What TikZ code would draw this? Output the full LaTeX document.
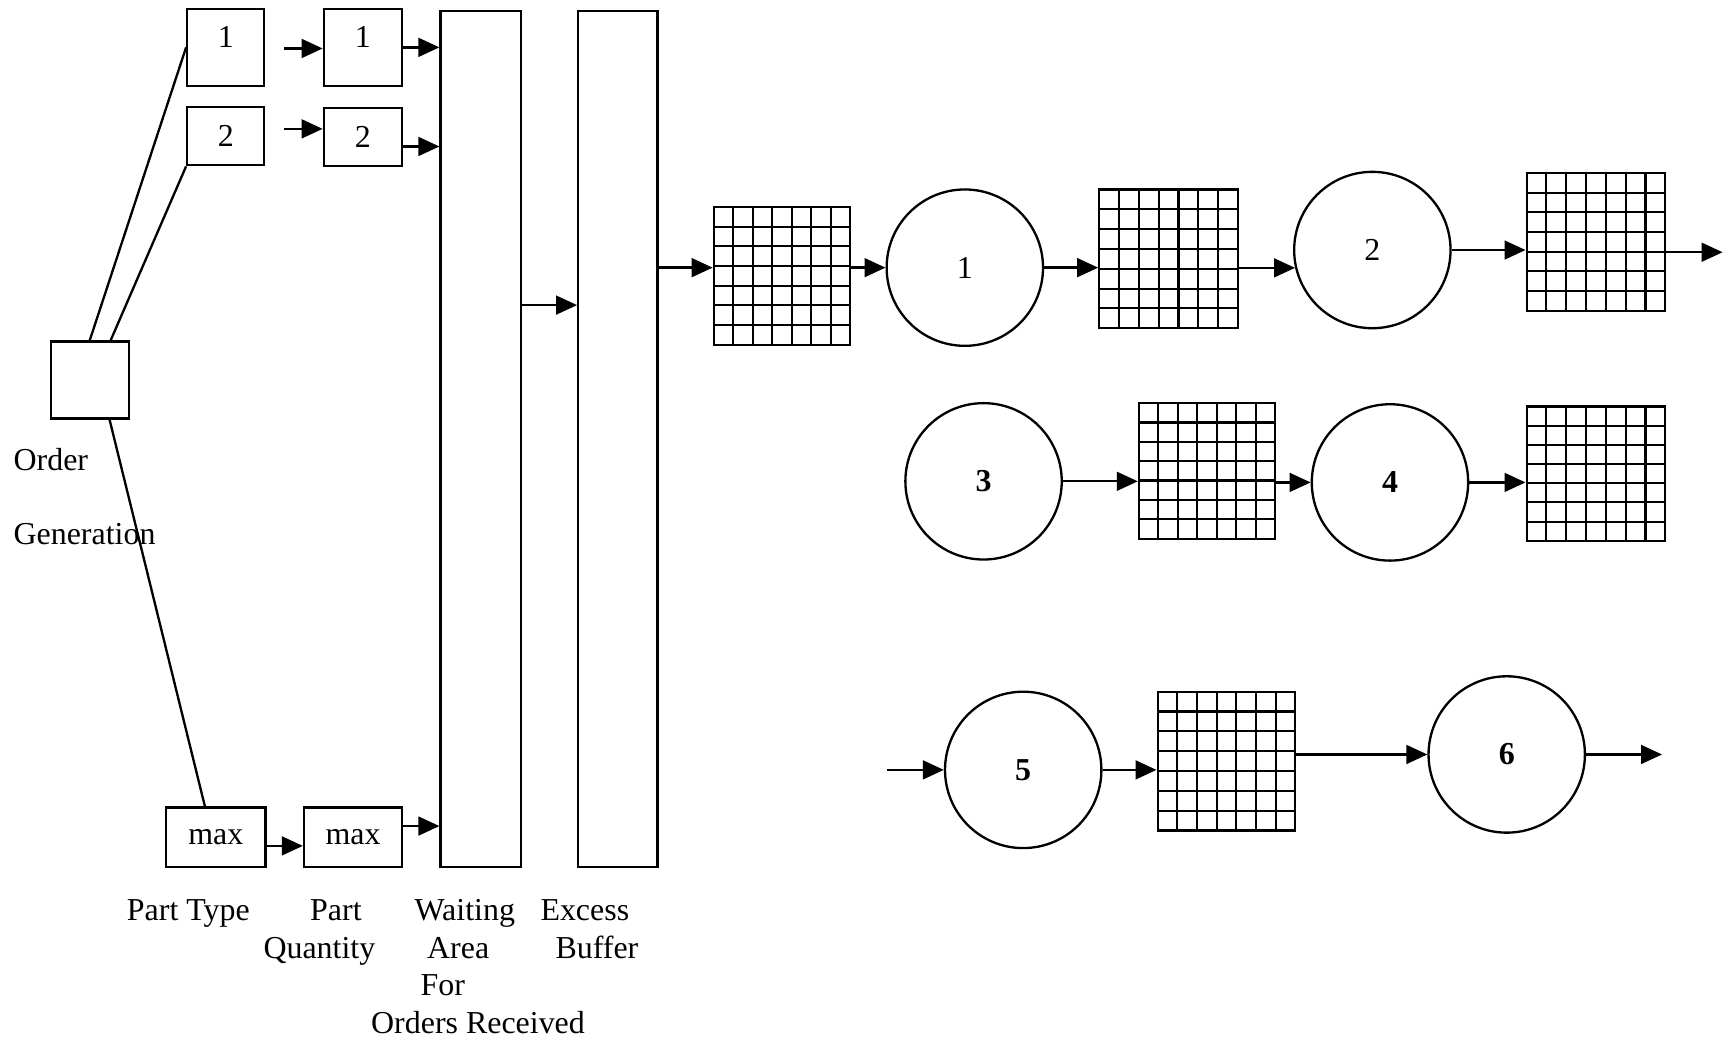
\documentclass[tikz,border=0pt]{standalone}
\usepackage{fontspec}
\setmainfont{Liberation Serif}
\usetikzlibrary{arrows.meta,calc}

\tikzset{
  box/.style={draw, line width=1.2pt, inner sep=0pt},
  toplabel/.style={text height=0.4cm, text depth=0.4cm},
  queue/.style={draw, line width=1.1pt, inner sep=0pt, path picture={
    \foreach \k in {1,...,6} {
      \draw[line width=1.1pt] ($(path picture bounding box.north west)!\k/7!(path picture bounding box.north east)$) -- ($(path picture bounding box.south west)!\k/7!(path picture bounding box.south east)$);
      \draw[line width=1.1pt] ($(path picture bounding box.north west)!\k/7!(path picture bounding box.south west)$) -- ($(path picture bounding box.north east)!\k/7!(path picture bounding box.south east)$);
    }}},
  machine/.style={draw, circle, line width=1.2pt, minimum size=2.84cm, inner sep=0pt},
  arr/.style={-{Triangle[length=0.38cm,width=0.34cm]}, line width=1.2pt},
  caption/.style={anchor=base, inner sep=0pt},
}

\begin{document}
\begin{tikzpicture}[x=0.02cm, y=-0.02cm, font=\fontsize{16.5}{20}\selectfont]
\useasboundingbox (0,0) rectangle (1568,944);
% Order generation
\node[box, minimum width=1.42cm, minimum height=1.40cm] (og) at (81.5,345) {};
\node[anchor=west, inner sep=0pt] (oglbl1) at (12,417) {Order};
\node[anchor=west, inner sep=0pt] (oglbl2) at (12,485) {Generation};
% Part type and part quantity boxes
\node[box, toplabel, minimum width=1.40cm, minimum height=1.40cm] (pt1) at (205,43) {1};
\node[box, minimum width=1.40cm, minimum height=1.06cm] (pt2) at (205,123.5) {2};
\node[box, minimum width=1.80cm, minimum height=1.08cm] (ptmax) at (196,760) {max};
\node[box, toplabel, minimum width=1.42cm, minimum height=1.40cm] (pq1) at (329.5,43) {1};
\node[box, minimum width=1.42cm, minimum height=1.06cm] (pq2) at (329.5,124.5) {2};
\node[box, minimum width=1.78cm, minimum height=1.08cm] (pqmax) at (320.5,760) {max};
% Waiting area and excess buffer
\node[box, minimum width=1.46cm, minimum height=15.54cm] (wait) at (436.5,398.5) {};
\node[box, minimum width=1.44cm, minimum height=15.54cm] (excess) at (561,398.5) {};
% Links from order generation
\draw[line width=1.2pt] (og.north) -- (pt1.west);
\draw[line width=1.2pt] ([xshift=0.38cm]og.north) -- (pt2.south west);
\draw[line width=1.2pt] ([xshift=0.36cm]og.south) -- ([xshift=-0.2cm]ptmax.north);
% Arrows into the waiting area
\coordinate (s1) at (258,44);
\coordinate (s2) at (258,117);
\draw[arr] (s1) -- (s1 -| pq1.west);
\draw[arr] (s2) -- (s2 -| pq2.west);
\draw[arr] ([yshift=-0.16cm]ptmax.east) -- ([yshift=-0.16cm]ptmax.east -| pqmax.west);
\draw[arr] (pq1.east) -- (pq1.east -| wait.west);
\draw[arr] ([yshift=-0.17cm]pq2.east) -- ([yshift=-0.17cm]pq2.east -| wait.west);
\draw[arr] ([yshift=0.2cm]pqmax.east) -- ([yshift=0.2cm]pqmax.east -| wait.west);
\draw[arr] (wait.east |- 0,277) -- (excess.west |- 0,277);
% Captions
\node[caption] (cpt) at (171,836) {Part Type};
\node[caption] (cpq1) at (305,836) {Part};
\node[caption] (cpq2) at (290,870) {Quantity};
\node[caption] (cwa1) at (422,836) {Waiting};
\node[caption] (cwa2) at (416,870) {Area};
\node[caption] (cwa3) at (402,904) {For};
\node[caption] (cwa4) at (434,938) {Orders Received};
\node[caption] (ceb1) at (531,836) {Excess};
\node[caption] (ceb2) at (542,870) {Buffer};
% Queues and machines
\node[queue, minimum width=2.48cm, minimum height=2.50cm] (g1) at (710,250.5) {};
\node[machine] (m1) at (876,243) {1};
\node[queue, minimum width=2.52cm, minimum height=2.52cm] (g2) at (1061,235) {};
\node[machine] (m2) at (1246,227) {2};
\node[queue, minimum width=2.52cm, minimum height=2.50cm] (g3) at (1449,219.5) {};
\node[machine, font=\fontsize{16.5}{20}\selectfont\bfseries] (m3) at (893,437) {3};
\node[queue, minimum width=2.48cm, minimum height=2.46cm] (g4) at (1096,427.5) {};
\node[machine, font=\fontsize{16.5}{20}\selectfont\bfseries] (m4) at (1262,438) {4};
\node[queue, minimum width=2.52cm, minimum height=2.44cm] (g5) at (1449,430) {};
\node[machine, font=\fontsize{16.5}{20}\selectfont\bfseries] (m5) at (929,699) {5};
\node[queue, minimum width=2.50cm, minimum height=2.52cm] (g6) at (1113.5,691) {};
\node[machine, font=\fontsize{16.5}{20}\selectfont\bfseries] (m6) at (1368,685) {6};
% Row 1
\draw[arr] (excess.east |- m1) -- (g1.west |- m1);
\draw[arr] (g1.east |- m1) -- (m1.west);
\draw[arr] (m1.east) -- (m1.east -| g2.west);
\draw[arr] (g2.east |- m2.193) -- (m2.193);
\draw[arr] (m2.east) -- (m2.east -| g3.west);
\coordinate (o1) at (1564,229);
\draw[arr] (g3.east |- o1) -- (o1);
% Row 2
\draw[arr] (m3.east) -- (m3.east -| g4.west);
\draw[arr] (g4.east |- m4) -- (m4.west);
\draw[arr] (m4.east) -- (m4.east -| g5.west);
% Row 3
\coordinate (i5) at (805,699);
\draw[arr] (i5) -- (m5.west);
\draw[arr] (m5.east) -- (m5.east -| g6.west);
\draw[arr] (g6.east |- m6) -- (m6.west);
\coordinate (o3) at (1509,685);
\draw[arr] (m6.east) -- (o3);
\end{tikzpicture}
\end{document}
